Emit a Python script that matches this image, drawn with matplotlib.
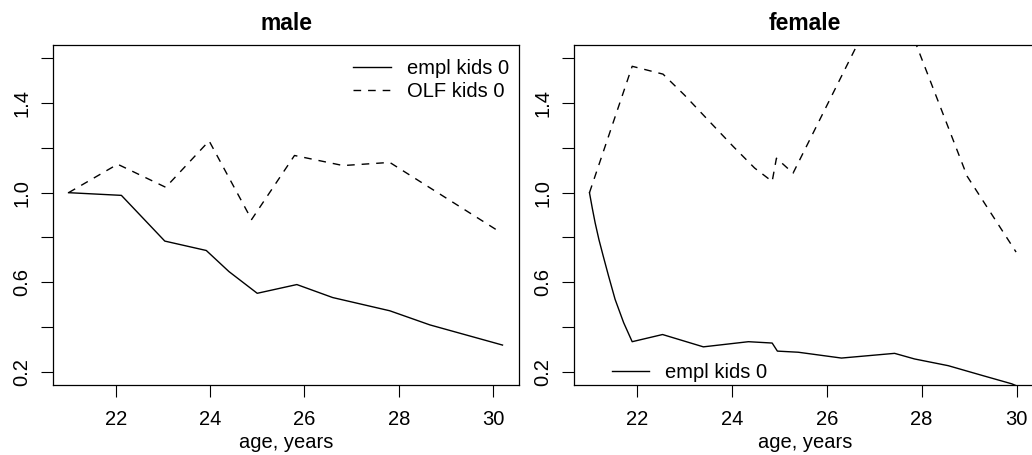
import matplotlib
matplotlib.use("Agg")
import matplotlib.pyplot as plt

plt.rcParams['font.family'] = ['Liberation Sans', 'DejaVu Sans']

# male panel
male_age_empl = [21.0, 22.12, 23.04, 23.92, 24.40, 25.0, 25.84, 26.6, 27.81, 28.66, 30.2]
male_empl = [1.0, 0.988, 0.784, 0.742, 0.648, 0.551, 0.590, 0.532, 0.473, 0.41, 0.32]
male_age_olf = [21.0, 22.04, 23.06, 23.98, 24.88, 25.79, 26.82, 27.81, 30.15]
male_olf = [1.0, 1.127, 1.024, 1.231, 0.88, 1.166, 1.121, 1.135, 0.824]

# female panel
female_age_empl = [21.0, 21.06, 21.12, 21.2, 21.29, 21.4, 21.54, 21.72, 21.9, 22.54, 23.40,
                   24.35, 24.85, 24.96, 25.40, 26.31, 27.43, 27.85, 28.56, 29.3, 29.9, 30.0]
female_empl = [1.0, 0.93, 0.865, 0.79, 0.717, 0.63, 0.524, 0.42, 0.335, 0.367, 0.312,
               0.335, 0.329, 0.293, 0.288, 0.262, 0.283, 0.258, 0.228, 0.183, 0.147, 0.138]
female_age_olf = [21.0, 21.9, 22.55, 23.0, 23.5, 24.03, 24.48, 24.85, 24.94, 25.29,
                  27.35, 27.9, 28.96, 29.99]
female_olf = [1.0, 1.564, 1.529, 1.436, 1.324, 1.206, 1.11, 1.05, 1.154, 1.087,
              1.96, 1.653, 1.073, 0.735]

yticks = [0.2, 0.4, 0.6, 0.8, 1.0, 1.2, 1.4, 1.6]
ytick_labels = ['0.2', '', '0.6', '', '1.0', '', '1.4', '']
xticks = [22, 24, 26, 28, 30]

W, H = 1032, 455
fig = plt.figure(figsize=(W / 100, H / 100), dpi=100)

top, bottom = 45, 384.5
ax1 = fig.add_axes([53 / W, 1 - bottom / H, 466 / W, (bottom - top) / H])
ax2 = fig.add_axes([574 / W, 1 - bottom / H, 462 / W, (bottom - top) / H])

dash = (0, (5.5, 5))
ax1.plot(male_age_empl, male_empl, color='black', lw=1.0, label='empl kids 0')
ax1.plot(male_age_olf, male_olf, color='black', lw=1.0, linestyle=dash, label='OLF kids 0')
ax2.plot(female_age_empl, female_empl, color='black', lw=1.0, label='empl kids 0')
ax2.plot(female_age_olf, female_olf, color='black', lw=1.0, linestyle=dash)

ax1.set_xlim(20.67, 30.55)
ax2.set_xlim(20.674, 30.41)

fs = 14.5
for ax, title in [(ax1, 'male'), (ax2, 'female')]:
    ax.set_ylim(0.144, 1.659)
    ax.set_yticks(yticks, ytick_labels, rotation=90, va='center')
    ax.set_xticks(xticks)
    ax.tick_params(direction='out', length=8.6, width=0.8, labelsize=fs, color='black')
    ax.tick_params(axis='x', pad=10)
    ax.tick_params(axis='y', pad=7)
    for s in ax.spines.values():
        s.set_linewidth(0.9)
        s.set_color('black')
    ax.text(0.5, 1 + 22 / (bottom - top), title, transform=ax.transAxes,
            ha='center', va='center', fontsize=16.5, fontweight='bold')
    ax.text(0.5, -(442 - bottom) / (bottom - top), 'age, years', transform=ax.transAxes,
            ha='center', va='center', fontsize=fs)

ax1.legend(loc='upper right', bbox_to_anchor=(0.978, 0.958), frameon=False,
           handlelength=1.85, handletextpad=0.8, labelspacing=0.2,
           borderpad=0, borderaxespad=0, fontsize=fs)
ax2.legend(loc='lower left', bbox_to_anchor=(0.082, 0.008), frameon=False,
           handlelength=1.85, handletextpad=0.8, labelspacing=0.2,
           borderpad=0, borderaxespad=0, fontsize=fs)

fig.savefig('out.png', dpi=100)
